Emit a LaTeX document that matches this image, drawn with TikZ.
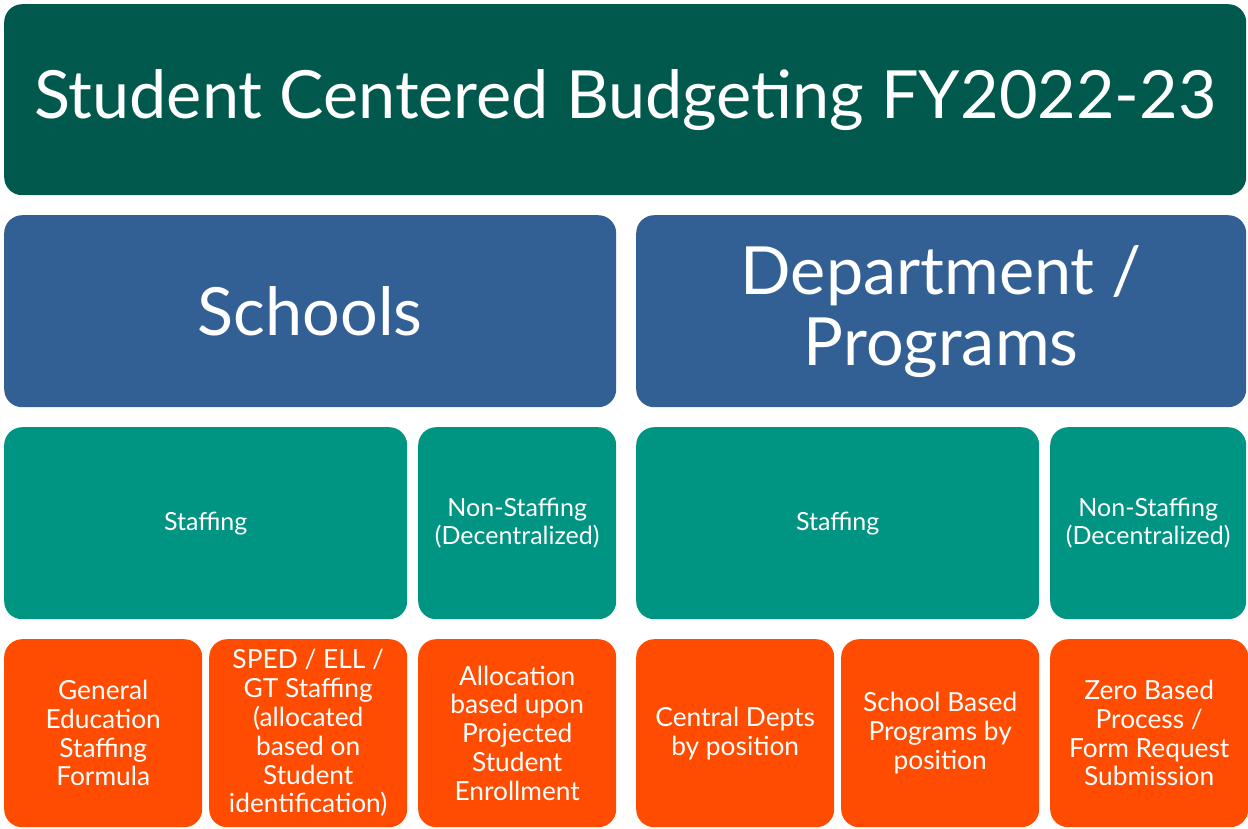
\documentclass[tikz,border=0pt]{standalone}
\usepackage{fontspec}
\setmainfont{Lato}
\usetikzlibrary{positioning}

\definecolor{budgetgreen}{HTML}{00594C}
\definecolor{unitblue}{HTML}{336094}
\definecolor{splitteal}{HTML}{009483}
\definecolor{itemorange}{HTML}{FF4C00}

\tikzset{
  tile/.style={rectangle, rounded corners=18pt, inner sep=0pt, anchor=north west,
    text=white, align=center},
  headtile/.style={tile, fill=budgetgreen, font=\fontsize{66.5}{71}\selectfont},
  unittile/.style={tile, fill=unitblue, font=\fontsize{66.5}{71}\selectfont},
  splittile/.style={tile, fill=splitteal, font=\fontsize{25}{27.5}\selectfont},
  itemtile/.style={tile, fill=itemorange, font=\fontsize{26.3}{28.8}\selectfont,
    minimum width=198, minimum height=188},
}

\begin{document}
\begin{tikzpicture}[x=1pt, y=-1pt]
\useasboundingbox (0,0) rectangle (1248,829);

% top banner
\node[headtile, minimum width=1242, minimum height=191] (budget) at (4,4)
  {Student Centered Budgeting FY2022-23};

% two halves
\node[unittile, minimum width=612, minimum height=192] (schools) at (4,215) {Schools};
\node[unittile, minimum width=610, minimum height=192] (depts) at (636,215)
  {Department /\\Programs};

% staffing / non-staffing
\node[splittile, minimum width=403, minimum height=192] (schstaff) at (4,427) {Staffing};
\node[splittile, minimum width=198, minimum height=192] (schnon) at (418,427)
  {Non-Staffing\\(Decentralized)};
\node[splittile, minimum width=403, minimum height=192] (depstaff) at (636,427) {Staffing};
\node[splittile, minimum width=196, minimum height=192] (depnon) at (1050,427)
  {Non-Staffing\\(Decentralized)};

% allocation methods
\foreach \x/\name/\txt in {
    4/gened/{General\\Education\\Staffing\\Formula},
    209/sped/{SPED / ELL /\\GT Staffing\\(allocated\\based on\\Student\\identification)},
    418/enroll/{Allocation\\based upon\\Projected\\Student\\Enrollment},
    636/central/{Central Depts\\by position},
    841/program/{School Based\\Programs by\\position},
    1050/zero/{Zero Based\\Process /\\Form Request\\Submission}} {
  \node[itemtile] (\name) at (\x,639) {\txt};
}
\end{tikzpicture}
\end{document}
